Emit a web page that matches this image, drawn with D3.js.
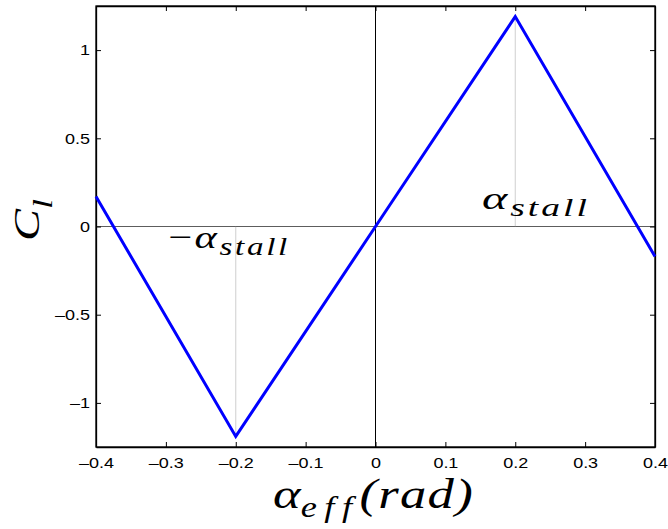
<!DOCTYPE html>
<html>
<head>
<meta charset="utf-8">
<script src="https://cdn.jsdelivr.net/npm/d3@7/dist/d3.min.js"></script>
<style>
  html, body { margin: 0; padding: 0; background: #fff; }
  svg { display: block; }
  .tick text { font-family: "Liberation Sans", Arial, sans-serif; font-size: 15px; fill: #000; }
  .math { font-family: "Liberation Serif", "DejaVu Serif", serif; font-style: italic; fill: #000; }
</style>
</head>
<body>
<svg id="chart" width="668" height="529"></svg>
<script>
// Lift coefficient vs effective angle of attack (piecewise linear, stall at ±0.2 rad)
const alphaEff = [-0.4, -0.2, 0, 0.2, 0.4];
const liftCoef = [0.17, -1.19, 0, 1.19, -0.17];
const stallAngles = [-0.2, 0.2];
const stallLift = [-1.19, 1.19];
const xTicks = [-0.4, -0.3, -0.2, -0.1, 0, 0.1, 0.2, 0.3, 0.4];
const yTicks = [-1, -0.5, 0, 0.5, 1];

const svg = d3.select("#chart");
const plotL = 96, plotR = 655, plotT = 6, plotB = 447;

const x = d3.scaleLinear().domain([-0.4, 0.4]).range([plotL, plotR]);
const y = d3.scaleLinear().domain([-1.25, 1.25]).range([plotB, plotT]);

const fmt = d => d === 0 ? "0" : (d < 0 ? "\u2013" + Math.abs(d) : String(d));

// zero reference lines
svg.append("line")
  .attr("x1", x(0)).attr("x2", x(0)).attr("y1", plotT).attr("y2", plotB)
  .attr("stroke", "#000").attr("stroke-width", 1);
svg.append("line")
  .attr("x1", plotL).attr("x2", plotR).attr("y1", y(0)).attr("y2", y(0))
  .attr("stroke", "#333").attr("stroke-width", 0.8);

// dotted stall markers
svg.selectAll(".stall")
  .data(stallAngles.map((a, i) => [a, stallLift[i]]))
  .enter().append("line")
  .attr("x1", d => x(d[0])).attr("x2", d => x(d[0]))
  .attr("y1", y(0)).attr("y2", d => y(d[1]))
  .attr("stroke", "#888").attr("stroke-width", 0.8)
  .attr("stroke-dasharray", "1,1");

// axes with inward ticks on all four sides
const tick = 5;
svg.append("g").attr("transform", `translate(0,${plotB})`)
  .call(d3.axisBottom(x).tickValues(xTicks).tickFormat(fmt).tickSizeInner(-tick).tickSizeOuter(0).tickPadding(10));
svg.append("g").attr("transform", `translate(0,${plotT})`)
  .call(d3.axisTop(x).tickValues(xTicks).tickFormat("").tickSizeInner(-tick).tickSizeOuter(0));
svg.append("g").attr("transform", `translate(${plotL},0)`)
  .call(d3.axisLeft(y).tickValues(yTicks).tickFormat(fmt).tickSizeInner(-tick).tickSizeOuter(0).tickPadding(5));
svg.append("g").attr("transform", `translate(${plotR},0)`)
  .call(d3.axisRight(y).tickValues(yTicks).tickFormat("").tickSizeInner(-tick).tickSizeOuter(0));
svg.selectAll(".domain").attr("stroke", "#000").attr("stroke-width", 1.3);
svg.selectAll(".tick line").attr("stroke", "#000").attr("stroke-width", 1);
svg.selectAll(".tick text").attr("transform", "scale(1.2,1)");

// box
svg.append("rect")
  .attr("x", plotL).attr("y", plotT).attr("width", plotR - plotL).attr("height", plotB - plotT)
  .attr("fill", "none").attr("stroke", "#000").attr("stroke-width", 1.3);

// the curve
const line = d3.line().x(d => x(d[0])).y(d => y(d[1]));
svg.append("path")
  .datum(alphaEff.map((a, i) => [a, liftCoef[i]]))
  .attr("d", line)
  .attr("fill", "none").attr("stroke", "#0000ff").attr("stroke-width", 3)
  .attr("stroke-linejoin", "miter");

// stretch a math label horizontally so it spans [x0, x1]
function fitSpan(t, x0, x1, baseline) {
  const b = t.node().getBBox();
  const k = (x1 - x0) / b.width;
  t.attr("transform", `translate(${x0},${baseline}) scale(${k},1) translate(${-b.x},0)`);
}

// annotations
const ann1 = svg.append("text").attr("class", "math").attr("font-size", 32);
ann1.append("tspan").text("\u03b1");
ann1.append("tspan").attr("font-size", 25).attr("dx", 2).attr("dy", 7).attr("letter-spacing", 2).text("stall");
fitSpan(ann1, 482, 590, 209);

const ann2 = svg.append("text").attr("class", "math").attr("font-size", 32);
ann2.append("tspan").attr("font-style", "normal").attr("font-weight", 300).text("\u2212");
ann2.append("tspan").attr("dx", 2).text("\u03b1");
ann2.append("tspan").attr("font-size", 25).attr("dx", 2).attr("dy", 7).attr("letter-spacing", 2).text("stall");
fitSpan(ann2, 168, 290, 248);

// axis titles
const xl = svg.append("text").attr("class", "math").attr("font-size", 42);
xl.append("tspan").text("\u03b1");
xl.append("tspan").attr("font-size", 29).attr("dy", 9).attr("letter-spacing", 6).text("eff");
xl.append("tspan").attr("dy", -9).attr("letter-spacing", 1).text("(rad)");
fitSpan(xl, 273, 474, 508);

const yl = svg.append("text").attr("class", "math").attr("font-size", 36);
yl.append("tspan").text("C");
yl.append("tspan").attr("font-size", 27).attr("dy", 13).text("l");
{
  const b = yl.node().getBBox();
  const k = 42 / b.width;
  yl.attr("transform", `translate(39,241) rotate(-90) scale(${k},1) translate(${-b.x},0)`);
}
</script>
</body>
</html>
